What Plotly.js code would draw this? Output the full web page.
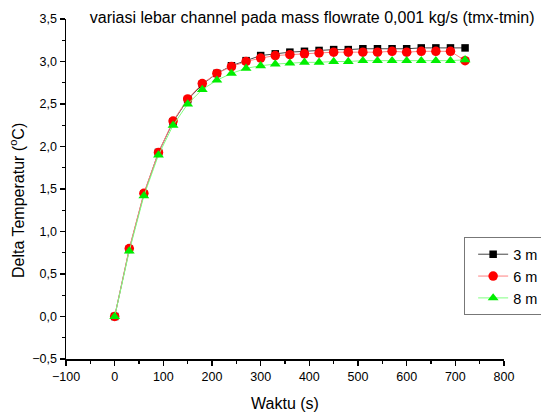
<!DOCTYPE html>
<html>
<head>
<meta charset="utf-8">
<script src="https://cdn.plot.ly/plotly-3.0.1.min.js"></script>
<style>html,body{margin:0;padding:0;background:#fff;overflow:hidden}#chart{width:541px;height:412px}</style>
</head>
<body>
<div id="chart"></div>
<script>
var waktu = [0,30,60,90,120,150,180,210,240,270,300,330,360,390,420,450,480,510,540,570,600,630,660,690,720];
var series3mm = [0,0.79,1.44,1.93,2.29,2.55,2.73,2.86,2.95,3.01,3.07,3.09,3.11,3.12,3.13,3.14,3.14,3.15,3.15,3.15,3.15,3.16,3.16,3.16,3.16];
var series6mm = [0,0.80,1.45,1.93,2.30,2.56,2.74,2.86,2.94,3.00,3.04,3.07,3.08,3.09,3.10,3.11,3.11,3.11,3.11,3.12,3.11,3.12,3.12,3.12,3.01];
var series8mm = [0,0.77,1.42,1.90,2.25,2.50,2.67,2.78,2.86,2.92,2.95,2.97,2.98,2.99,2.99,3.00,3.00,3.01,3.01,3.01,3.01,3.01,3.01,3.01,3.02];
var names = ["3 m","6 m","8 m"];
var titleText = 'variasi lebar channel pada mass flowrate 0,001 kg/s (tmx-tmin)';
var yTitle = 'Delta Temperatur (<sup>o</sup>C)';
var xTitle = 'Waktu (s)';

var traces = [
  {x: waktu, y: series3mm, name: names[0], type: 'scatter', mode: 'lines+markers',
   line: {color: '#444444', width: 1}, marker: {symbol: 'square', size: 7.5, color: '#000000'}},
  {x: waktu, y: series6mm, name: names[1], type: 'scatter', mode: 'lines+markers',
   line: {color: '#ff8080', width: 1}, marker: {symbol: 'circle', size: 9.5, color: '#ff0000'}},
  {x: waktu, y: series8mm, name: names[2], type: 'scatter', mode: 'lines+markers',
   line: {color: '#80ff80', width: 1}, marker: {symbol: 'triangle-up', size: 9.5, color: '#00ee00'}}
];

var fontFam = 'Liberation Sans, Arial, sans-serif';
var layout = {
  width: 541, height: 412,
  margin: {l: 66, r: 37, t: 19, b: 53, autoexpand: false},
  paper_bgcolor: '#ffffff', plot_bgcolor: '#ffffff',
  separators: ',.',
  font: {family: fontFam, size: 12, color: '#000'},
  title: {text: titleText,
          font: {family: fontFam, size: 16, color: '#000'},
          x: 0.577, xref: 'container', xanchor: 'center', y: 0.958, yref: 'container', yanchor: 'middle'},
  xaxis: {range: [-100, 800], dtick: 100, tick0: 0, showgrid: false, zeroline: false,
          showline: true, linecolor: '#000', linewidth: 1.5, ticks: 'outside', ticklen: 5,
          tickwidth: 1.2, tickcolor: '#000', tickfont: {size: 12.5},
          minor: {dtick: 50, ticks: 'outside', ticklen: 3, tickwidth: 1.2, tickcolor: '#000', showgrid: false},
          title: {text: xTitle, font: {size: 16}, standoff: 15}},
  yaxis: {range: [-0.5, 3.5], dtick: 0.5, tick0: 0, tickformat: '.1f', showgrid: false, zeroline: false,
          showline: true, linecolor: '#000', linewidth: 1.5, ticks: 'outside', ticklen: 5,
          tickwidth: 1.2, tickcolor: '#000', tickfont: {size: 12.5},
          minor: {dtick: 0.25, ticks: 'outside', ticklen: 3, tickwidth: 1.2, tickcolor: '#000', showgrid: false}},
  annotations: [{text: yTitle, textangle: -90, xref: 'paper', yref: 'paper',
                 x: -0.113, y: 0.466, xanchor: 'center', yanchor: 'middle', showarrow: false,
                 font: {size: 16, family: fontFam, color: '#000'}}],
  legend: {x: 0.909, y: 0.358, xanchor: 'left', yanchor: 'top', bgcolor: '#fff',
           bordercolor: '#777', borderwidth: 1, font: {size: 14.5}, tracegroupgap: 0, indentation: 8},
  showlegend: true
};
Plotly.newPlot('chart', traces, layout, {displayModeBar: false, staticPlot: true});
</script>
</body>
</html>
